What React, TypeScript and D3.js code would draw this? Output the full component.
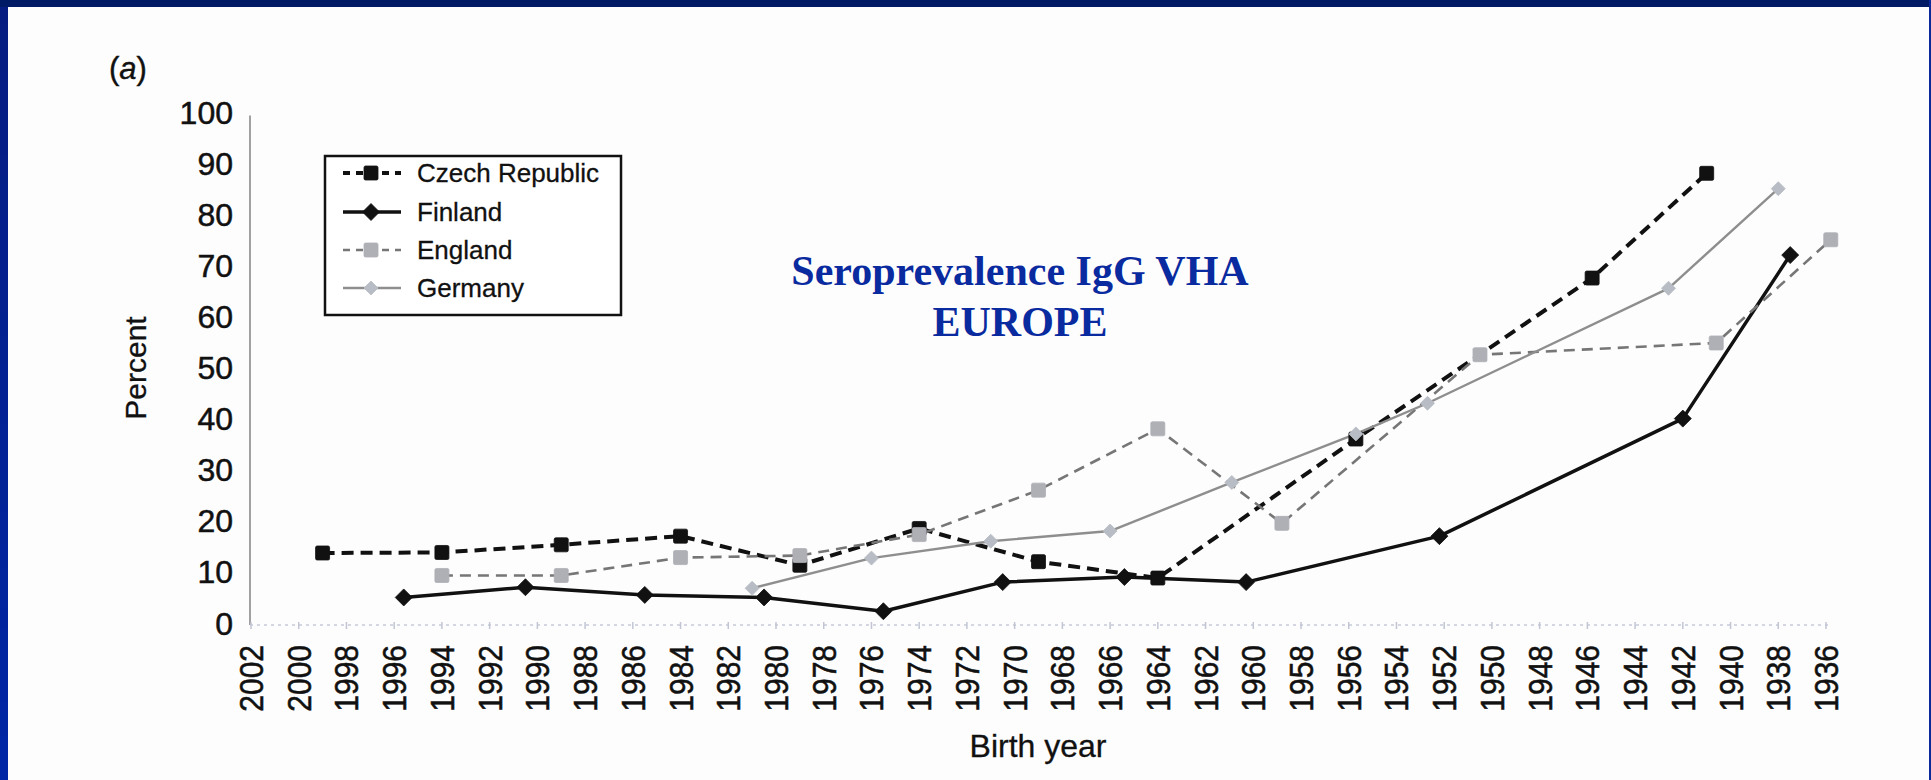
import React, { useEffect } from "react";
import * as d3 from "d3";

// ---------- data ----------
const tickYears = d3.range(2002, 1935, -2);
const yTicks = [0, 10, 20, 30, 40, 50, 60, 70, 80, 90, 100];

const czechYears = [1999, 1994, 1989, 1984, 1979, 1974, 1969, 1964, 1955.7, 1945.8, 1941];
const czechValues = [13.7, 13.8, 15.3, 17, 11.3, 18.5, 12, 8.8, 36, 67.5, 88];

const finlandYears = [1995.6, 1990.5, 1985.5, 1980.5, 1975.5, 1970.5, 1965.4, 1960.3, 1952.2, 1942, 1937.5];
const finlandValues = [5, 7, 5.5, 5, 2.3, 8, 9, 8, 17, 40, 72];

const englandYears = [1994, 1989, 1984, 1979, 1974, 1969, 1964, 1958.8, 1950.5, 1940.6, 1935.8];
const englandValues = [9.3, 9.3, 12.8, 13.2, 17.3, 26, 38, 19.5, 52.5, 54.8, 75];

const germanyYears = [1981, 1976, 1971, 1966, 1960.9, 1955.7, 1952.7, 1942.6, 1938];
const germanyValues = [6.8, 12.7, 16, 18, 27.5, 37, 43, 65.5, 85];

const seriesNames = ["Czech Republic", "Finland", "England", "Germany"];
const titleLines = ["Seroprevalence IgG VHA", "EUROPE"];

// ---------- styles ----------
const styles: Record<string, any> = {
  "Czech Republic": { stroke: "#111", width: 4, dash: "12,7", marker: "square", fill: "#111", size: 14 },
  Finland: { stroke: "#111", width: 3.5, dash: null, marker: "diamond", fill: "#111", size: 17 },
  England: { stroke: "#767676", width: 2.6, dash: "11,7", marker: "square", fill: "#aeb0b6", size: 14 },
  Germany: { stroke: "#8e8e8e", width: 2.4, dash: null, marker: "diamond", fill: "#b8bcc4", size: 14 },
};

const W = 1931;
const H = 780;

const x = d3.scaleLinear().domain([2002, 1936]).range([251, 1826]);
const y = d3.scaleLinear().domain([0, 100]).range([623, 112]);

const allSeries = [
  { name: "Czech Republic", years: czechYears, values: czechValues },
  { name: "Finland", years: finlandYears, values: finlandValues },
  { name: "England", years: englandYears, values: englandValues },
  { name: "Germany", years: germanyYears, values: germanyValues },
];

function Marker({ kind, cx, cy, size, fill, stroke }: any) {
  if (kind === "square") {
    return <rect x={cx - size / 2} y={cy - size / 2} width={size} height={size} fill={fill} stroke={stroke} strokeWidth={0.8} rx={1.5} />;
  }
  const h = size / 2;
  const d = `M${cx},${cy - h}L${cx + h},${cy}L${cx},${cy + h}L${cx - h},${cy}Z`;
  return <path d={d} fill={fill} stroke={stroke} strokeWidth={0.8} />;
}

export default function App() {
  useEffect(() => {
    document.body.style.margin = "0";
    document.body.style.overflow = "hidden";
  }, []);

  const line = d3
    .line<[number, number]>()
    .x((d) => x(d[0]))
    .y((d) => y(d[1]));

  const sans = "'Liberation Sans', Arial, Helvetica, sans-serif";
  const serif = "'Liberation Serif', 'Times New Roman', serif";

  const legendX = 325;
  const legendY = 156;
  const legendW = 296;
  const legendH = 159;
  const rowY = [173, 212, 250, 288];

  return (
    <svg width={W} height={H} style={{ position: "absolute", left: 0, top: 0, display: "block" }}>
      <defs>
        <linearGradient id="leftband" x1="0" y1="0" x2="0" y2="1">
          <stop offset="0" stopColor="#061c80" />
          <stop offset="1" stopColor="#0026a6" />
        </linearGradient>
      </defs>
      <rect x={0} y={0} width={W} height={H} fill="#fdfdfd" />
      <rect x={0} y={0} width={8} height={H} fill="url(#leftband)" />
      <rect x={0} y={0} width={W} height={7} fill="#011a66" />
      <rect x={W - 2} y={0} width={2} height={H} fill="#0a2a9c" />

      {/* (a) */}
      <text x={109} y={79} fontFamily={sans} fontSize={31} fill="#111" stroke="#111" strokeWidth={0.4}>
        (<tspan fontStyle="italic">a</tspan>)
      </text>

      {/* y axis */}
      <line x1={250} x2={250} y1={y(99.3)} y2={y(0) + 2} stroke="#8a8a8a" strokeWidth={1.6} />
      {yTicks.map((t) => (
        <text key={t} x={233} y={y(t)} dy="0.36em" textAnchor="end" fontFamily={sans} fontSize={32} fill="#111" stroke="#111" strokeWidth={0.5}>
          {t}
        </text>
      ))}
      <text
        transform={`translate(146,368) rotate(-90)`}
        textAnchor="middle"
        fontFamily={sans}
        fontSize={30}
        fill="#111"
        stroke="#111"
        strokeWidth={0.3}
      >
        Percent
      </text>

      {/* x axis (faint dotted) */}
      <line x1={250} x2={x(1936) + 2} y1={y(0) + 2} y2={y(0) + 2} stroke="#c6cad8" strokeWidth={1.5} strokeDasharray="3,4" />
      {tickYears.map((t) => (
        <line key={"tk" + t} x1={x(t)} x2={x(t)} y1={y(0) - 1} y2={y(0) + 6} stroke="#c2c6d4" strokeWidth={1.5} />
      ))}
      {tickYears.map((t) => (
        <text
          key={t}
          transform={`translate(${x(t) + 12},645) rotate(-90) scale(1,1.12)`}
          textAnchor="end"
          fontFamily={sans}
          fontSize={30}
          fill="#111"
          stroke="#111"
          strokeWidth={0.5}
        >
          {t}
        </text>
      ))}
      <text x={1038} y={757} textAnchor="middle" fontFamily={sans} fontSize={32} fill="#111" stroke="#111" strokeWidth={0.3}>
        Birth year
      </text>

      {/* series lines */}
      {allSeries.map((s) => {
        const st = styles[s.name];
        const pts = s.years.map((yr, i) => [yr, s.values[i]] as [number, number]);
        return (
          <path
            key={"l" + s.name}
            d={line(pts) || ""}
            fill="none"
            stroke={st.stroke}
            strokeWidth={st.width}
            strokeDasharray={st.dash || undefined}
            strokeLinejoin="round"
          />
        );
      })}
      {allSeries.map((s) => {
        const st = styles[s.name];
        return (
          <g key={"m" + s.name}>
            {s.years.map((yr, i) => (
              <Marker key={i} kind={st.marker} cx={x(yr)} cy={y(s.values[i])} size={st.size} fill={st.fill} stroke={st.fill} />
            ))}
          </g>
        );
      })}

      {/* legend */}
      <rect x={legendX} y={legendY} width={legendW} height={legendH} fill="#fff" stroke="#111" strokeWidth={2.5} />
      {seriesNames.map((n, i) => {
        const st = styles[n];
        const cy = rowY[i];
        return (
          <g key={"lg" + n}>
            <line
              x1={343}
              x2={401}
              y1={cy}
              y2={cy}
              stroke={st.stroke}
              strokeWidth={st.width}
              strokeDasharray={st.dash ? "7,6" : undefined}
            />
            <Marker kind={st.marker} cx={371} cy={cy} size={st.size} fill={st.fill} stroke={st.fill} />
            <text x={417} y={cy} dy="0.36em" fontFamily={sans} fontSize={26} fill="#111" stroke="#111" strokeWidth={0.3}>
              {n}
            </text>
          </g>
        );
      })}

      {/* title */}
      {titleLines.map((t, i) => (
        <text
          key={t}
          x={1020}
          y={285 + i * 51}
          textAnchor="middle"
          fontFamily={serif}
          fontWeight="bold"
          fontSize={42}
          fill="#0a2aa0"
        >
          {t}
        </text>
      ))}
    </svg>
  );
}
